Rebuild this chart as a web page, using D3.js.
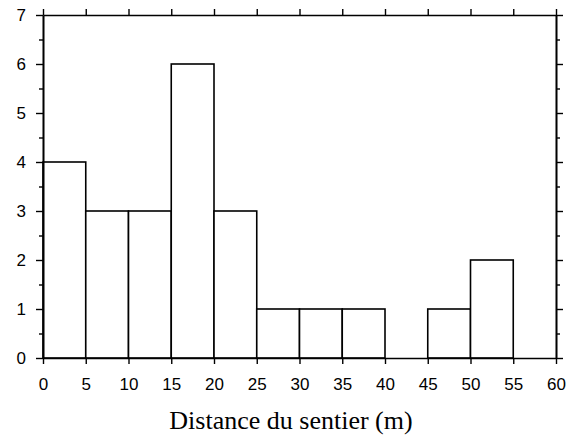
<!DOCTYPE html>
<html>
<head>
<meta charset="utf-8">
<script src="https://cdn.jsdelivr.net/npm/d3@7"></script>
<style>
  body { margin: 0; background: #fff; }
  svg { display: block; }
  .tick text { font-family: "Liberation Sans", Arial, sans-serif; font-size: 17px; fill: #000; }
</style>
</head>
<body>
<svg id="chart" width="568" height="436"></svg>
<script>
// histogram bins (m) and counts
const binStarts = [0, 5, 10, 15, 20, 25, 30, 35, 40, 45, 50, 55];
const counts = [4, 3, 3, 6, 3, 1, 1, 1, 0, 1, 2, 0];
const xTicks = [0, 5, 10, 15, 20, 25, 30, 35, 40, 45, 50, 55, 60];
const yTicks = [0, 1, 2, 3, 4, 5, 6, 7];
const yMinor = [0.5, 1.5, 2.5, 3.5, 4.5, 5.5, 6.5];
const binWidth = 5;

const svg = d3.select("#chart");
const margin = { left: 43, right: 12, top: 15, bottom: 78 };
const width = 568 - margin.left - margin.right;
const height = 436 - margin.top - margin.bottom;

const x = d3.scaleLinear().domain([0, 60]).range([0, width]);
const y = d3.scaleLinear().domain([0, 7]).range([height, 0]);

const g = svg.append("g").attr("transform", `translate(${margin.left},${margin.top})`);

// bars
g.selectAll("rect.bar")
  .data(binStarts.map((b, i) => ({ b, c: counts[i] })).filter(d => d.c > 0))
  .enter().append("rect")
  .attr("class", "bar")
  .attr("x", d => x(d.b))
  .attr("y", d => y(d.c))
  .attr("width", d => x(d.b + binWidth) - x(d.b))
  .attr("height", d => y(0) - y(d.c))
  .attr("fill", "#fff")
  .attr("stroke", "#000")
  .attr("stroke-width", 1.6);

// axes
g.append("g").attr("transform", `translate(0,${height})`)
  .call(d3.axisBottom(x).tickValues(xTicks).tickSize(6).tickPadding(14).tickSizeOuter(0));
g.append("g")
  .call(d3.axisTop(x).tickValues(xTicks).tickSize(6).tickFormat("").tickSizeOuter(0));
g.append("g")
  .call(d3.axisLeft(y).tickValues(yTicks).tickSize(7).tickPadding(10).tickFormat(d3.format("d")).tickSizeOuter(0));
g.append("g").attr("transform", `translate(${width},0)`)
  .call(d3.axisRight(y).tickValues(yTicks).tickSize(7).tickFormat("").tickSizeOuter(0));
g.append("g").call(d3.axisLeft(y).tickValues(yMinor).tickSize(4).tickFormat("").tickSizeOuter(0));
g.append("g").attr("transform", `translate(${width},0)`)
  .call(d3.axisRight(y).tickValues(yMinor).tickSize(4).tickFormat("").tickSizeOuter(0));

g.selectAll(".domain").attr("stroke", "#000").attr("stroke-width", 1.6);
g.selectAll(".tick line").attr("stroke", "#000").attr("stroke-width", 1.4);

// axis title
svg.append("text")
  .attr("x", 291)
  .attr("y", 429)
  .attr("text-anchor", "middle")
  .attr("font-family", "'Liberation Serif', 'Times New Roman', serif")
  .attr("font-size", 26)
  .attr("fill", "#000")
  .text("Distance du sentier (m)");
</script>
</body>
</html>
